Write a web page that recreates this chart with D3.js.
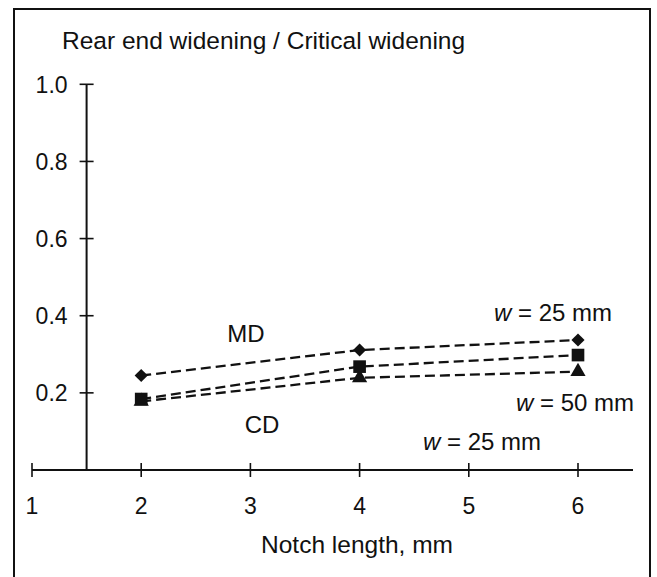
<!DOCTYPE html>
<html>
<head>
<meta charset="utf-8">
<script src="https://cdn.jsdelivr.net/npm/d3@7"></script>
<style>
  body { margin: 0; background: #fff; }
  text { font-family: "Liberation Sans", Arial, sans-serif; fill: #111; }
</style>
</head>
<body>
<div id="chart"></div>
<script>
// notch length (mm) and ratio of rear-end widening to critical widening
const notchLength = [2, 4, 6]
const mdW25 = [0.245, 0.311, 0.337]   // diamonds
const cdW50 = [0.184, 0.268, 0.298]   // squares
const cdW25 = [0.178, 0.239, 0.255]   // triangles
const xTicks = [1, 2, 3, 4, 5, 6]
const yTicks = [0.2, 0.4, 0.6, 0.8, 1.0]

const series = [
  { values: mdW25, symbol: d3.symbolDiamond2, size: 110 },
  { values: cdW50, symbol: d3.symbolSquare, size: 160 },
  { values: cdW25, symbol: d3.symbolTriangle, size: 100 }
]

const svg = d3.select('#chart').append('svg')
  .attr('width', 657).attr('height', 577)

// frame (bottom edge runs off the picture)
svg.append('rect')
  .attr('x', 14).attr('y', 9).attr('width', 636).attr('height', 600)
  .attr('fill', 'none').attr('stroke', '#111').attr('stroke-width', 2)

const x = d3.scaleLinear().domain([1, 6]).range([32, 578])
const y = d3.scaleLinear().domain([0, 1]).range([470, 84.3])

// x axis, ticks cross the line
svg.append('line')
  .attr('x1', x(1)).attr('x2', 633).attr('y1', y(0)).attr('y2', y(0))
  .attr('stroke', '#111').attr('stroke-width', 2)
svg.selectAll('.xt').data(xTicks).enter().append('line')
  .attr('x1', d => x(d)).attr('x2', d => x(d))
  .attr('y1', y(0) - 7).attr('y2', y(0) + 7)
  .attr('stroke', '#111').attr('stroke-width', 1.6)
svg.selectAll('.xl').data(xTicks).enter().append('text')
  .attr('x', d => x(d)).attr('y', 514)
  .attr('text-anchor', 'middle').style('font-size', '23px')
  .text(d => d)

// y axis sits at x = 1.5
const yx = x(1.5)
svg.append('line')
  .attr('x1', yx).attr('x2', yx).attr('y1', y(1)).attr('y2', y(0))
  .attr('stroke', '#111').attr('stroke-width', 2)
svg.selectAll('.yt').data(yTicks).enter().append('line')
  .attr('x1', yx - 7).attr('x2', yx + 7)
  .attr('y1', d => y(d)).attr('y2', d => y(d))
  .attr('stroke', '#111').attr('stroke-width', 1.6)
svg.selectAll('.yl').data(yTicks).enter().append('text')
  .attr('x', yx - 19).attr('y', d => y(d) + 8.4)
  .attr('text-anchor', 'end').style('font-size', '23px')
  .text(d => d.toFixed(1))

// titles
svg.append('text').attr('x', 62).attr('y', 49)
  .style('font-size', '24.5px').text('Rear end widening / Critical widening')
svg.append('text').attr('x', 357).attr('y', 553)
  .attr('text-anchor', 'middle').style('font-size', '24.5px').text('Notch length, mm')

// dashed lines and markers
const line = d3.line().x(d => x(d[0])).y(d => y(d[1]))
series.forEach(s => {
  const pts = notchLength.map((n, i) => [n, s.values[i]])
  svg.append('path').datum(pts)
    .attr('fill', 'none').attr('stroke', '#111').attr('stroke-width', 2.3)
    .attr('stroke-dasharray', '10,5').attr('d', line)
})
series.slice().reverse().forEach(s => {
  svg.selectAll(null).data(notchLength.map((n, i) => [n, s.values[i]])).enter()
    .append('path')
    .attr('d', d3.symbol().type(s.symbol).size(s.size))
    .attr('transform', d => `translate(${x(d[0])},${y(d[1])})`)
    .attr('fill', '#111')
})

// annotations
svg.append('text').attr('x', 246).attr('y', 342).attr('text-anchor', 'middle')
  .style('font-size', '24px').text('MD')
svg.append('text').attr('x', 262).attr('y', 433).attr('text-anchor', 'middle')
  .style('font-size', '24px').text('CD')
const wLabel = (xp, yp, txt) => {
  const t = svg.append('text').attr('x', xp).attr('y', yp).style('font-size', '24px')
  t.append('tspan').style('font-style', 'italic').text('w')
  t.append('tspan').text(txt)
}
wLabel(494, 321, ' = 25 mm')
wLabel(516, 411, ' = 50 mm')
wLabel(423, 450, ' = 25 mm')
</script>
</body>
</html>
